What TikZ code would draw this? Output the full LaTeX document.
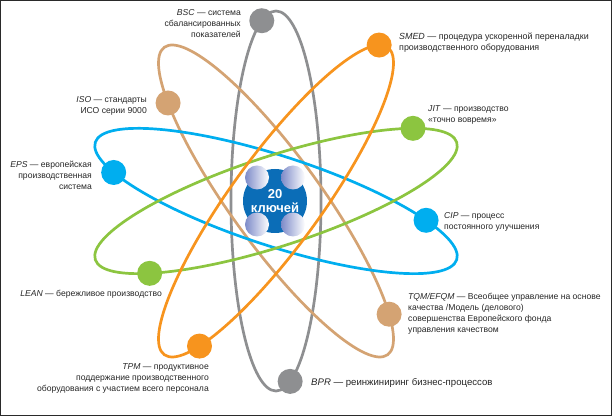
\documentclass[tikz,border=0pt]{standalone}
\usepackage{fontspec}
\setmainfont{Liberation Sans}
\usetikzlibrary{calc}
\definecolor{cgray}{HTML}{8E8F91}
\definecolor{corange}{HTML}{F7941E}
\definecolor{ctan}{HTML}{D4A373}
\definecolor{cblue}{HTML}{00AEEF}
\definecolor{cgreen}{HTML}{8CC540}
\definecolor{ccenter}{HTML}{0B6DB7}
\definecolor{csphere}{HTML}{7D8BC9}
\definecolor{cframe}{HTML}{2A2A2A}
\tikzset{
  orbit/.style={line width=2.7pt},
  dot/.style={circle, fill=#1, minimum size=25pt, inner sep=0pt},
  lbl/.style={inner sep=0pt, font=\fontsize{8.6}{11}\selectfont, text=black!85},
  lblr/.style={lbl, align=right},
  lbll/.style={lbl, align=left},
}
\begin{document}
\begin{tikzpicture}[x=1pt,y=1pt]
\useasboundingbox (0,0) rectangle (613,417);
\draw[cframe, line width=1.3pt] (0.6,416.4) rectangle (611.4,1.4);
\coordinate (C) at (276,216);
% orbits
\draw[orbit, cgray, rotate around={90:(C)}] (C) ellipse [x radius=190, y radius=45];
\draw[orbit, ctan, rotate around={126:(C)}] (C) ellipse [x radius=190, y radius=45];
\draw[orbit, cblue, rotate around={-18:(C)}] (C) ellipse [x radius=190, y radius=45];
\draw[orbit, cgreen, rotate around={18:(C)}] (C) ellipse [x radius=190, y radius=45];
\draw[orbit, corange, rotate around={54:(C)}] (C) ellipse [x radius=190, y radius=45];
% dots on orbits
\path (C) ++(90:{190*cos(18.4)}) ++(180:{45*sin(18.4)}) node[dot=cgray] (bsc) {};
\path (C) ++(90:{190*cos(198.3)}) ++(180:{45*sin(198.3)}) node[dot=cgray] (bpr) {};
\path (C) ++(54:{190*cos(10.5)}) ++(144:{45*sin(10.5)}) node[dot=corange] (smed) {};
\path (C) ++(54:{190*cos(211.3)}) ++(144:{45*sin(211.3)}) node[dot=corange] (tpm) {};
\path (C) ++(126:{190*cos(41.3)}) ++(216:{45*sin(41.3)}) node[dot=ctan] (iso) {};
\path (C) ++(126:{190*cos(213.7)}) ++(216:{45*sin(213.7)}) node[dot=ctan] (tqm) {};
\path (C) ++(-18:{190*cos(210.8)}) ++(72:{45*sin(210.8)}) node[dot=cblue] (eps) {};
\path (C) ++(-18:{190*cos(38.5)}) ++(72:{45*sin(38.5)}) node[dot=cblue] (cip) {};
\path (C) ++(18:{190*cos(36.5)}) ++(108:{45*sin(36.5)}) node[dot=cgreen] (jit) {};
\path (C) ++(18:{190*cos(221.4)}) ++(108:{45*sin(221.4)}) node[dot=cgreen] (lean) {};
% centre
\node[circle, fill=ccenter, minimum size=64pt, inner sep=0pt] (core) at (275,216) {};
\foreach \dx/\dy [count=\i] in {-18/23.5, 18/23.5, -18/-23.5, 18/-23.5}{
  \shade[left color=csphere, right color=white] ($(core.center)+(\dx,\dy)$) circle (12);
}
\node[align=center, text=white, inner sep=0pt, font=\fontsize{13}{14}\selectfont\bfseries] (keys) at (275,216) {20\\ключей};
% labels
\node[lblr, anchor=north east] (tbsc) at (241,408) {\textit{BSC} — система\\сбалансированных\\показателей};
\node[lbll, anchor=north west, font=\fontsize{8.9}{11}\selectfont] (tsmed) at (399,384) {\textit{SMED} — процедура ускоренной переналадки\\производственного оборудования};
\node[lblr, anchor=north east] (tiso) at (147,321) {\textit{ISO} — стандарты\\ИСО серии 9000};
\node[lbll, anchor=north west] (tjit) at (428,312) {\textit{JIT} — производство\\«точно вовремя»};
\node[lblr, anchor=north east] (teps) at (92,256) {\textit{EPS} — европейская\\производственная\\система};
\node[lbll, anchor=north west] (tcip) at (444,205) {\textit{CIP} — процесс\\постоянного улучшения};
\node[lblr, anchor=north east] (tlean) at (162,127) {\textit{LEAN} — бережливое производство};
\node[lbll, anchor=north west] (ttqm) at (408,124) {\textit{TQM/EFQM} — Всеобщее управление на основе\\качества /Модель (делового)\\совершенства Европейского фонда\\управления качеством};
\node[lblr, anchor=north east] (ttpm) at (209,54) {\textit{TPM} — продуктивное\\поддержание производственного\\оборудования с участием всего персонала};
\node[lbll, anchor=north west, font=\fontsize{9.6}{11}\selectfont] (tbpr) at (311,38.5) {\textit{BPR} — реинжиниринг бизнес-процессов};
\end{tikzpicture}
\end{document}
